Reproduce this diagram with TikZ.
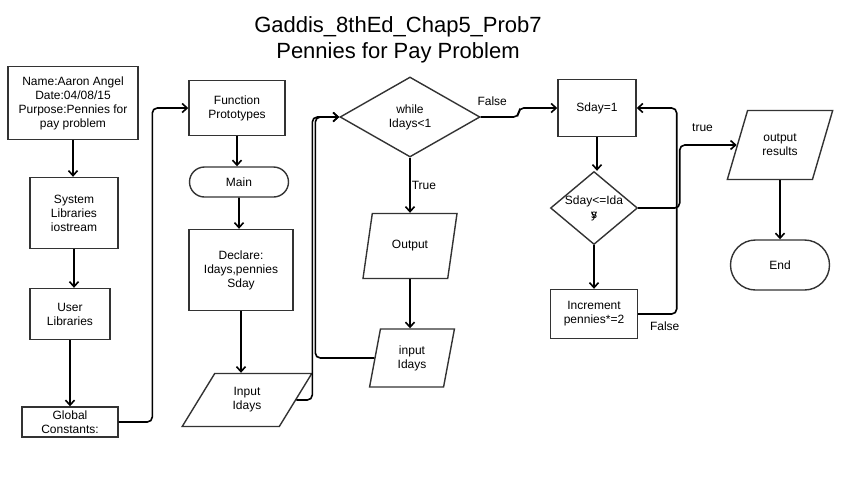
\documentclass[tikz,border=0pt]{standalone}
\usepackage{fontspec}
\setmainfont{Liberation Sans}
\usetikzlibrary{arrows.meta,shapes.geometric,shapes.misc}

\begin{document}
\begin{tikzpicture}[->,>={Straight Barb[length=5pt,width=9pt]},line width=1.6pt,x=1pt,y=-1pt,rounded corners=5pt,
    io/.style={box,trapezium,trapezium stretches=true,trapezium left angle=#1,trapezium right angle=180-#1}]
  \tikzstyle{box}=[draw=black!80,line width=1.4pt,arrows=-,sharp corners,align=center,inner sep=1pt,font=\fontsize{12}{14}\selectfont]
  \tikzstyle{term}=[box,rounded rectangle]
  \tikzstyle{decide}=[box,diamond,inner sep=-10pt]
  \tikzstyle{lbl}=[font=\fontsize{12}{14}\selectfont,inner sep=1pt]

  \useasboundingbox (0,0) rectangle (856,488);

  \node[align=center,font=\fontsize{22}{26}\selectfont] (title) at (398,40) {Gaddis\_8thEd\_Chap5\_Prob7\\Pennies for Pay Problem};

  % left column
  \node[box,minimum width=130,minimum height=73] (name) at (73,103) {Name:Aaron Angel\\Date:04/08/15\\Purpose:Pennies for\\pay problem};
  \node[box,minimum width=88,minimum height=71] (syslib) at (74,213) {System\\Libraries\\iostream};
  \node[box,minimum width=80,minimum height=51] (userlib) at (70,314) {User\\Libraries};
  \node[box,minimum width=96,minimum height=30] (global) at (70,422) {Global\\Constants:};

  % main
  \node[box,minimum width=96,minimum height=55] (proto) at (237,108) {Function\\Prototypes};
  \node[term,minimum width=101,minimum height=30] (main) at (239,182) {Main};
  \node[box,minimum width=104,minimum height=81] (declare) at (241,270) {Declare:\\Idays,pennies\\Sday};
  \node[io=60,minimum width=130,minimum height=53] (inp) at (247,400) {Input\\Idays};

  % while loop
  \node[decide,minimum width=140,minimum height=80] (while) at (410,117) {while\\Idays<1};
  \node[io=70,minimum width=94,minimum height=65] (outp) at (410,246) {Output};
  \node[io=79,minimum width=85,minimum height=58] (inIdays) at (412,358) {input\\Idays};

  % pennies loop
  \node[box,minimum width=78,minimum height=57] (sday) at (597,108) {Sday=1};
  \node[decide,minimum width=87,minimum height=73] (cond) at (594,208) {Sday<=Ida\\\rlap{y}s};
  \node[box,minimum width=87,minimum height=49] (incr) at (594,314) {Increment\\pennies*=2};
  \node[io=64,minimum width=106,minimum height=69] (outres) at (780,145) {output\\results};
  \node[term,minimum width=101,minimum height=50] (endn) at (780,265) {End};

  \path (name) edge (name |- syslib.north)
        (syslib.south) edge (syslib.south |- userlib.north)
        (userlib) edge (userlib |- global.north)
        (proto) edge (proto |- main.north)
        (main) edge (main |- declare.north)
        (declare) edge (declare |- inp.north)
        (while) edge node[lbl,right] {True} (outp)
        (outp) edge (outp |- inIdays.north)
        (sday) edge (sday |- cond.north)
        (cond) edge (incr)
        (outres) edge (outres |- endn.north);

  \draw (global.east) -| ([xshift=-36pt]proto.west) -- (proto.west);
  \draw (inp.east) -| ([xshift=-27pt]while.west) -- (while.west);
  \draw (inIdays.west) -| ([xshift=-24pt]while.west) -- (while.west);
  \draw (while.east) node[lbl,anchor=south west,xshift=-5pt,yshift=10pt] {False} -- ++(38,0) |- (sday.west);
  \draw (incr.east) node[lbl,anchor=north west,xshift=10pt,yshift=-6pt] {False} -| ([xshift=40pt]sday.east) -- (sday.east);
  \draw (cond.east) -| ([xshift=-57pt]outres.west) -- node[lbl,above,pos=0.4,yshift=12pt] {true} (outres.west);
\end{tikzpicture}
\end{document}
